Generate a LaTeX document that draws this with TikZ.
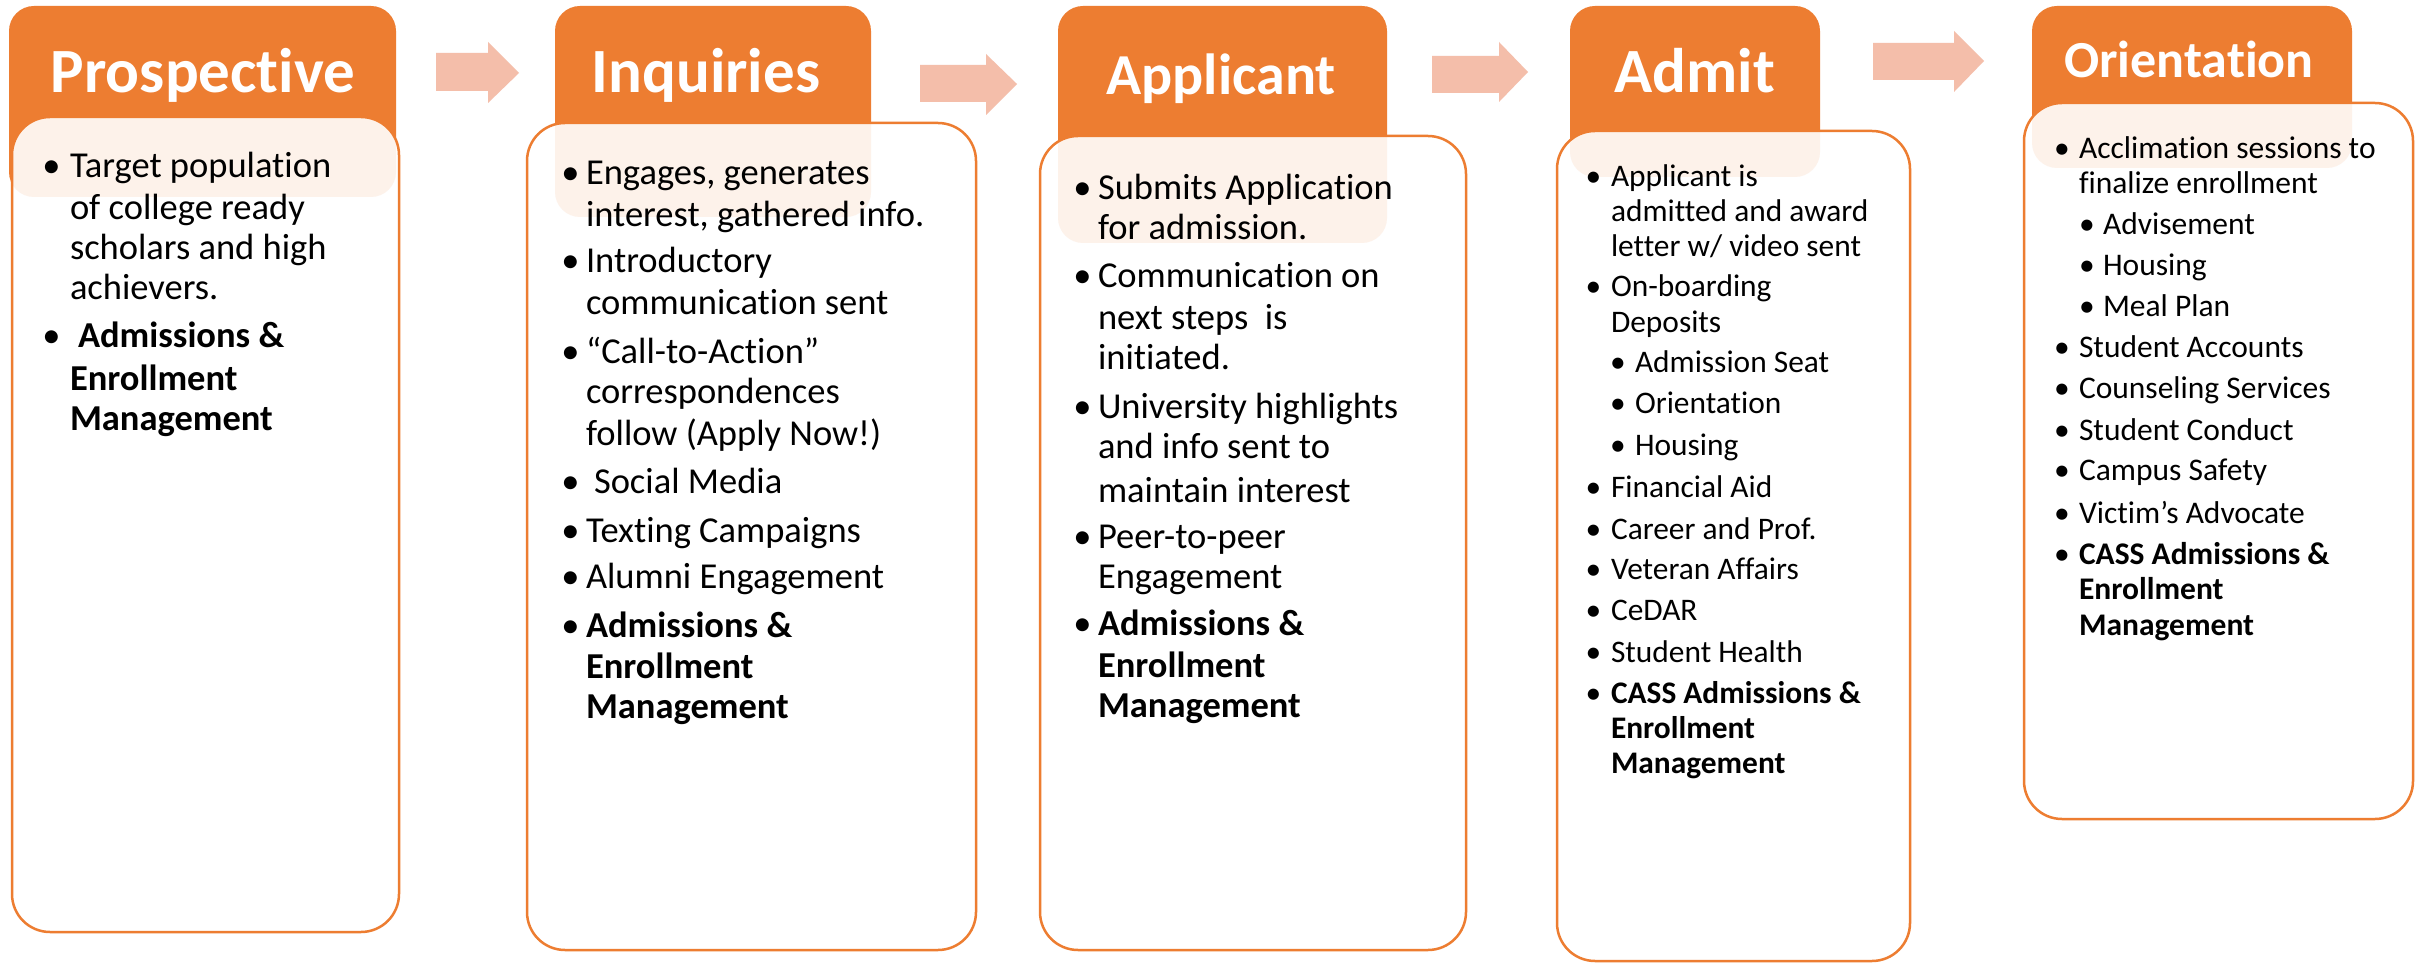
\documentclass[tikz,border=0pt]{standalone}
\usepackage{fontspec}
\setmainfont{Carlito}[RawFeature={-liga,-clig,-dlig,-calt}]
\definecolor{org}{HTML}{ED7D31}
\definecolor{arr}{HTML}{F4BEAA}
\tikzset{
  hdr/.style={fill=org, draw=none, rounded corners=25pt, inner sep=0pt, outer sep=0pt},
  bodybox/.style={draw=org, line width=2.5pt, fill=white, fill opacity=0.9, draw opacity=1, rounded corners=38pt, inner sep=0pt, outer sep=0pt},
  ttl/.style={text=white, anchor=base, inner sep=0pt, outer sep=0pt},
  tx/.style={anchor=base west, inner sep=0pt, outer sep=0pt, text=black},
  bu/.style={anchor=base, inner sep=0pt, outer sep=0pt, text=black},
  blk/.style={fill=arr, draw=none},
}
\newcommand\txl[4]{\node[tx] (#1) at (#2,#3) {#4};}
\newcommand\bul[3]{\node[bu] (#1) at (#2,#3) {•};}
\begin{document}
\begin{tikzpicture}[x=1pt,y=-1pt]
\useasboundingbox (0,0) rectangle (2422,965);
\fill[white] (0,0) rectangle (2422,965);

% headers
\node[hdr, minimum width=387pt, minimum height=191pt] (h1) at (202.5,101.5) {};
\node[hdr, minimum width=316pt, minimum height=211pt] (h2) at (713,111.5) {};
\node[hdr, minimum width=329pt, minimum height=237pt] (h3) at (1222.5,124.5) {};
\node[hdr, minimum width=250pt, minimum height=171pt] (h4) at (1695,91.5) {};
\node[hdr, minimum width=320pt, minimum height=162pt] (h5) at (2192,87) {};

% header titles
\node[ttl, font=\bfseries\fontsize{63}{70}\selectfont] (t1) at (203,93) {Prospective};
\node[ttl, font=\bfseries\fontsize{63}{70}\selectfont] (t2) at (706,93) {Inquiries};
\node[ttl, font=\bfseries\fontsize{58}{64}\selectfont] (t3) at (1221,95) {Applicant};
\node[ttl, font=\bfseries\fontsize{63}{70}\selectfont] (t4) at (1695,93) {Admit};
\node[ttl, font=\bfseries\fontsize{52}{58}\selectfont] (t5) at (2189,78) {Orientation};

% body boxes
\node[bodybox, minimum width=387pt, minimum height=815pt] (b1) at (205.5,524.5) {};
\node[bodybox, minimum width=449pt, minimum height=827pt] (b2) at (751.5,536.5) {};
\node[bodybox, minimum width=426pt, minimum height=814pt] (b3) at (1253,543) {};
\node[bodybox, minimum width=353pt, minimum height=830pt] (b4) at (1733.5,546) {};
\node[bodybox, minimum width=389pt, minimum height=716pt] (b5) at (2218.5,461) {};

% block arrows
\fill[blk] (436,53) -- (488,53) -- (488,42) -- (519,73) -- (488,103) -- (488,91) -- (436,91) -- cycle;
\fill[blk] (920,65) -- (986,65) -- (986,54) -- (1017,84) -- (986,115) -- (986,102) -- (920,102) -- cycle;
\fill[blk] (1432,56) -- (1499,56) -- (1499,42) -- (1528,72) -- (1499,102) -- (1499,93) -- (1432,93) -- cycle;
\fill[blk] (1873,43) -- (1954,43) -- (1954,31) -- (1984,61) -- (1954,92) -- (1954,80) -- (1873,80) -- cycle;

% panel 1
\begin{scope}[font=\fontsize{36.5}{40}\selectfont]
\bul{p1b1}{51.5}{178}
\txl{p1t1}{70}{178}{Target population}
\txl{p1t2}{70}{220}{of college ready}
\txl{p1t3}{70}{260}{scholars and high}
\txl{p1t4}{70}{300}{achievers.}
\bul{p1b2}{51.5}{348}
\txl{p1t5}{78}{348}{\bfseries Admissions \&}
\txl{p1t6}{70}{390}{\bfseries Enrollment}
\txl{p1t7}{70}{430}{\bfseries Management}
\end{scope}

% panel 2
\begin{scope}[font=\fontsize{36.5}{40}\selectfont]
\bul{p2b1}{570.5}{185}
\txl{p2t1}{586}{185}{Engages, generates}
\txl{p2t2}{586}{227}{interest, gathered info.}
\bul{p2b2}{570.5}{273}
\txl{p2t3}{586}{273}{Introductory}
\txl{p2t4}{586}{315}{communication sent}
\bul{p2b3}{570.5}{363}
\txl{p2t5}{586}{363}{“Call-to-Action”}
\txl{p2t6}{586}{403}{correspondences}
\txl{p2t7}{586}{445}{follow (Apply Now!)}
\bul{p2b4}{570.5}{493}
\txl{p2t8}{594}{493}{Social Media}
\bul{p2b5}{570.5}{542}
\txl{p2t9}{586}{542}{Texting Campaigns}
\bul{p2b6}{570.5}{588}
\txl{p2t10}{586}{588}{Alumni Engagement}
\bul{p2b7}{570.5}{637}
\txl{p2t11}{586}{637}{\bfseries Admissions \&}
\txl{p2t12}{586}{678}{\bfseries Enrollment}
\txl{p2t13}{586}{718}{\bfseries Management}
\end{scope}

% panel 3
\begin{scope}[font=\fontsize{36.5}{40}\selectfont]
\bul{p3b1}{1082.5}{200}
\txl{p3t1}{1098}{200}{Submits Application}
\txl{p3t2}{1098}{240}{for admission.}
\bul{p3b2}{1082.5}{288}
\txl{p3t3}{1098}{288}{Communication on}
\txl{p3t4}{1098}{330}{next steps\ \ is}
\txl{p3t5}{1098}{370}{initiated.}
\bul{p3b3}{1082.5}{418}
\txl{p3t6}{1098}{418}{University highlights}
\txl{p3t7}{1098}{458}{and info sent to}
\txl{p3t8}{1098}{502}{maintain interest}
\bul{p3b4}{1082.5}{548}
\txl{p3t9}{1098}{548}{Peer-to-peer}
\txl{p3t10}{1098}{588}{Engagement}
\bul{p3b5}{1082.5}{635}
\txl{p3t11}{1098}{635}{\bfseries Admissions \&}
\txl{p3t12}{1098}{677}{\bfseries Enrollment}
\txl{p3t13}{1098}{717}{\bfseries Management}
\end{scope}

% panel 4
\begin{scope}[font=\fontsize{31.4}{35}\selectfont]
\bul{p4b1}{1593.5}{187}
\txl{p4t1}{1611}{187}{Applicant is}
\txl{p4t2}{1611}{222}{admitted and award}
\txl{p4t3}{1611}{257}{letter w/ video sent}
\bul{p4b2}{1593.5}{297}
\txl{p4t4}{1611}{297}{On-boarding}
\txl{p4t5}{1611}{333}{Deposits}
\bul{p4s1}{1618}{373}
\txl{p4t6}{1635}{373}{Admission Seat}
\bul{p4s2}{1618}{413}
\txl{p4t7}{1635}{413}{Orientation}
\bul{p4s3}{1618}{455}
\txl{p4t8}{1635}{455}{Housing}
\bul{p4b3}{1593.5}{497}
\txl{p4t9}{1611}{497}{Financial Aid}
\bul{p4b4}{1593.5}{539}
\txl{p4t10}{1611}{539}{Career and Prof.}
\bul{p4b5}{1593.5}{579}
\txl{p4t11}{1611}{579}{Veteran Affairs}
\bul{p4b6}{1593.5}{620}
\txl{p4t12}{1611}{620}{CeDAR}
\bul{p4b7}{1593.5}{662}
\txl{p4t13}{1611}{662}{Student Health}
\bul{p4b8}{1593.5}{703}
\txl{p4t14}{1611}{703}{\bfseries CASS Admissions \&}
\txl{p4t15}{1611}{738}{\bfseries Enrollment}
\txl{p4t16}{1611}{773}{\bfseries Management}
\end{scope}

% panel 5
\begin{scope}[font=\fontsize{31.5}{35}\selectfont]
\bul{p5b1}{2062}{159}
\txl{p5t1}{2079}{159}{Acclimation sessions to}
\txl{p5t2}{2079}{194}{finalize enrollment}
\bul{p5s1}{2087}{235}
\txl{p5t3}{2103}{235}{Advisement}
\bul{p5s2}{2087}{276}
\txl{p5t4}{2103}{276}{Housing}
\bul{p5s3}{2087}{317}
\txl{p5t5}{2103}{317}{Meal Plan}
\bul{p5b2}{2062}{358}
\txl{p5t6}{2079}{358}{Student Accounts}
\bul{p5b3}{2062}{398}
\txl{p5t7}{2079}{398}{Counseling Services}
\bul{p5b4}{2062}{440}
\txl{p5t8}{2079}{440}{Student Conduct}
\bul{p5b5}{2062}{480}
\txl{p5t9}{2079}{480}{Campus Safety}
\bul{p5b6}{2062}{523}
\txl{p5t10}{2079}{523}{Victim’s Advocate}
\bul{p5b7}{2062}{564}
\txl{p5t11}{2079}{564}{\bfseries CASS Admissions \&}
\txl{p5t12}{2079}{599}{\bfseries Enrollment}
\txl{p5t13}{2079}{635}{\bfseries Management}
\end{scope}
\end{tikzpicture}
\end{document}
